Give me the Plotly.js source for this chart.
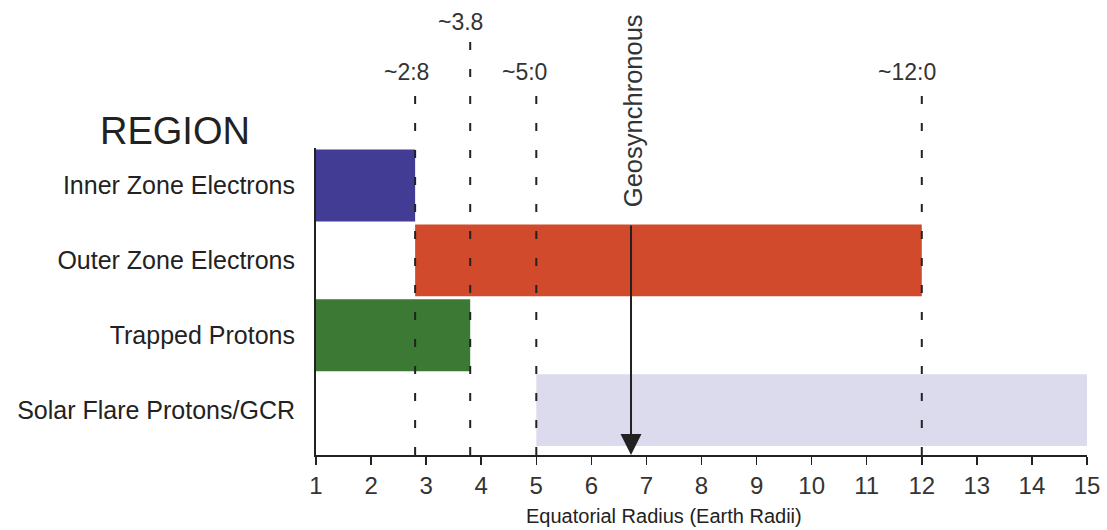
<!DOCTYPE html>
<html>
<head>
<meta charset="utf-8">
<script src="https://cdn.plot.ly/plotly-3.0.1.min.js"></script>
<style>html,body{margin:0;padding:0;background:#fff;}#chart{width:1107px;height:530px;}</style>
</head>
<body>
<div id="chart"></div>
<script>
// ---- data ----
const regions = ['Inner Zone Electrons', 'Outer Zone Electrons', 'Trapped Protons', 'Solar Flare Protons/GCR'];
const regionStart = [1.0, 2.8, 1.0, 5.0];
const regionEnd = [2.8, 12.0, 3.8, 15.0];
const boundaryValues = [2.8, 3.8, 5.0, 12.0];
const boundaryLabels = ['~2:8', '~3.8', '~5:0', '~12:0'];
const geoRadius = 6.72;
const geoLabel = 'Geosynchronous';
const xTickValues = [1,2,3,4,5,6,7,8,9,10,11,12,13,14,15];
const xTitle = 'Equatorial Radius (Earth Radii)';

// ---- style ----
const barColors = ['#433c95', '#d04a2b', '#3b7934', '#dcdbee'];
const FONT = 'Liberation Sans, Arial, Helvetica, sans-serif';
const INK = '#222222';
const lineTops = [1.195, 1.352, 1.195, 1.195];
const labelY = [1.248, 1.41, 1.248, 1.248];
const labelShift = [-9, -10, -12, -15];

const trace = {
  type: 'bar',
  orientation: 'h',
  y: regions,
  base: regionStart,
  x: regionEnd.map((e, i) => e - regionStart[i]),
  marker: {color: barColors, line: {width: 0}},
  hoverinfo: 'skip'
};

const shapes = boundaryValues.map((v, i) => ({
  type: 'line', xref: 'x', yref: 'paper',
  x0: v, x1: v, y0: 0, y1: lineTops[i],
  line: {color: INK, width: 2, dash: '8px,19px'},
  layer: 'above'
}));

const annotations = boundaryValues.map((v, i) => ({
  x: v, xref: 'x', y: labelY[i], yref: 'paper',
  text: boundaryLabels[i], showarrow: false,
  xanchor: 'center', yanchor: 'middle', xshift: labelShift[i],
  font: {family: FONT, size: 23, color: '#333'}
}));

annotations.push({
  x: -0.183, xref: 'paper', y: 1.055, yref: 'paper',
  text: 'REGION', showarrow: false, xanchor: 'center', yanchor: 'middle',
  font: {family: FONT, size: 38, color: INK}
});

annotations.push({
  x: geoRadius, xref: 'x', y: 1.12, yref: 'paper',
  text: geoLabel, showarrow: false, textangle: -90,
  xanchor: 'center', yanchor: 'middle', xshift: 2,
  font: {family: FONT, size: 25.5, color: '#333'}
});

annotations.push({
  x: geoRadius, xref: 'x', y: 0, yref: 'paper',
  ax: 0, ay: -231, axref: 'pixel', ayref: 'pixel',
  text: '', showarrow: true, arrowhead: 2, arrowsize: 2.1, arrowwidth: 2,
  arrowcolor: INK, standoff: 0, startstandoff: 0
});

annotations.push({
  x: 0.451, xref: 'paper', y: -0.2, yref: 'paper',
  text: xTitle, showarrow: false, xanchor: 'center', yanchor: 'middle',
  font: {family: FONT, size: 20, color: INK}
});

const layout = {
  width: 1107, height: 530,
  margin: {l: 316, r: 20, t: 148, b: 75, pad: 0},
  paper_bgcolor: '#ffffff', plot_bgcolor: '#ffffff',
  showlegend: false,
  bargap: 0.04,
  font: {family: FONT, color: INK},
  xaxis: {
    range: [1, 15], tickvals: xTickValues, ticktext: xTickValues.map(String),
    ticks: 'outside', ticklen: 8, tickwidth: 1.5, tickcolor: INK,
    showline: true, linewidth: 2, linecolor: INK,
    showgrid: false, zeroline: false,
    tickfont: {family: FONT, size: 24, color: '#333'}
  },
  yaxis: {
    type: 'category', categoryorder: 'array', categoryarray: regions,
    range: [3.6, -0.5],
    ticks: '', showline: true, linewidth: 2, linecolor: INK,
    showgrid: false, zeroline: false,
    ticklabelstandoff: 14,
    tickfont: {family: FONT, size: 25, color: INK}
  },
  shapes: shapes,
  annotations: annotations
};

Plotly.newPlot('chart', [trace], layout, {staticPlot: true, displayModeBar: false});
</script>
</body>
</html>
